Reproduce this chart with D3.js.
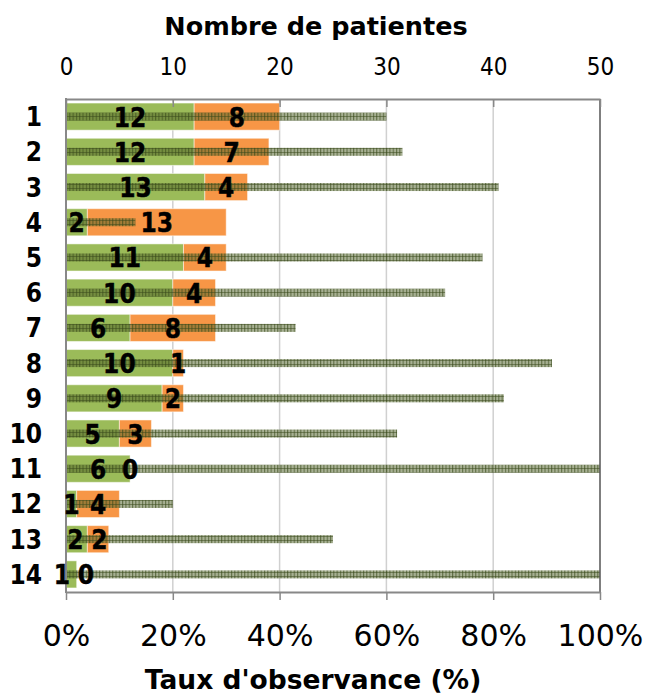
<!DOCTYPE html>
<html>
<head>
<meta charset="utf-8">
<script src="https://cdn.jsdelivr.net/npm/d3@7"></script>
<style>
  html, body { margin: 0; padding: 0; background: #fff; }
  svg { display: block; }
</style>
</head>
<body>
<script>
// ---- Data ----
const categories = ["1","2","3","4","5","6","7","8","9","10","11","12","13","14"];
const greenCounts = [12,12,13,2,11,10,6,10,9,5,6,1,2,1];
const orangeCounts = [8,7,4,13,4,4,8,1,2,3,0,4,2,0];
const observance = [60,63,81,13,78,71,43,91,82,62,100,20,50,100];
const countTicks = [0,10,20,30,40,50];
const pctTicks = [0,20,40,60,80,100];
const topTitle = "Nombre de patientes";
const bottomTitle = "Taux d'observance (%)";

// ---- Layout ----
const W = 651, H = 697;
const plotL = 66, plotR = 600, plotT = 99, plotB = 592;
const GREEN = "#9BBB59", ORANGE = "#F79646";
const FONT = "'DejaVu Sans', Verdana, sans-serif";
const CFONT = "'DejaVu Sans Condensed', 'DejaVu Sans', sans-serif";

const svg = d3.select("body").append("svg").attr("width", W).attr("height", H);

const defs = svg.append("defs");
const pat = defs.append("pattern").attr("id", "hatch")
  .attr("patternUnits", "userSpaceOnUse").attr("width", 3.3).attr("height", 4);
pat.append("rect").attr("width", 3.3).attr("height", 4).attr("fill", "rgba(79,98,40,0.5)");
pat.append("rect").attr("x", 0).attr("y", 0).attr("width", 1.1).attr("height", 4).attr("fill", "rgba(55,72,25,0.62)");
pat.append("rect").attr("x", 0).attr("y", 0).attr("width", 3.3).attr("height", 1).attr("fill", "rgba(55,72,25,0.5)");

const x = d3.scaleLinear().domain([0, 50]).range([plotL, plotR]);
const xp = d3.scaleLinear().domain([0, 100]).range([plotL, plotR]);
const y = d3.scaleBand().domain(categories).range([plotT, plotB]).paddingInner(0.23).paddingOuter(0.115);

// gridlines
svg.append("g").selectAll("line").data(pctTicks.slice(1, -1)).join("line")
  .attr("x1", d => xp(d)).attr("x2", d => xp(d))
  .attr("y1", plotT).attr("y2", plotB)
  .attr("stroke", "#d0d0d0").attr("stroke-width", 1.5);

// stacked bars
const rows = categories.map((c, i) => ({c, g: greenCounts[i], o: orangeCounts[i], p: observance[i]}));
const bars = svg.append("g");
bars.selectAll("rect.g").data(rows).join("rect").attr("class", "g")
  .attr("x", x(0)).attr("y", d => y(d.c))
  .attr("width", d => x(d.g) - x(0)).attr("height", y.bandwidth())
  .attr("fill", GREEN).attr("stroke", "rgba(255,255,255,0.5)").attr("stroke-width", 1);
bars.selectAll("rect.o").data(rows.filter(d => d.o > 0)).join("rect").attr("class", "o")
  .attr("x", d => x(d.g)).attr("y", d => y(d.c))
  .attr("width", d => x(d.g + d.o) - x(d.g)).attr("height", y.bandwidth())
  .attr("fill", ORANGE).attr("stroke", "rgba(255,255,255,0.5)").attr("stroke-width", 1);

// observance (hatched) bars
const hb = 8;
svg.append("g").selectAll("rect").data(rows).join("rect")
  .attr("x", xp(0)).attr("y", d => y(d.c) + y.bandwidth() / 2 - hb / 2)
  .attr("width", d => xp(d.p) - xp(0)).attr("height", hb)
  .attr("fill", "url(#hatch)");

// frame right line
svg.append("line").attr("x1", plotR).attr("x2", plotR).attr("y1", plotT).attr("y2", plotB)
  .attr("stroke", "#555").attr("stroke-width", 1.5);

// top axis
const gTop = svg.append("g").attr("transform", `translate(0,${plotT})`)
  .call(d3.axisTop(x).tickValues(countTicks).tickSizeInner(-8).tickSizeOuter(0).tickPadding(24));
gTop.select(".domain").attr("stroke", "#888").attr("stroke-width", 2);
gTop.selectAll(".tick line").attr("stroke", "#888").attr("stroke-width", 1.5);
gTop.selectAll(".tick text").attr("font-family", CFONT).attr("font-size", 24).attr("fill", "#000");

// bottom axis
const gBot = svg.append("g").attr("transform", `translate(0,${plotB})`)
  .call(d3.axisBottom(xp).tickValues(pctTicks).tickFormat(d => d + "%").tickSizeInner(8).tickSizeOuter(0));
gBot.select(".domain").attr("stroke", "#888").attr("stroke-width", 2);
gBot.selectAll(".tick line").attr("stroke", "#888").attr("stroke-width", 1.5);
gBot.selectAll(".tick text").attr("font-family", FONT).attr("font-size", 30).attr("fill", "#000")
  .attr("y", 54).attr("dy", 0);

// left axis line
svg.append("line").attr("x1", plotL).attr("x2", plotL).attr("y1", plotT - 1).attr("y2", plotB + 1)
  .attr("stroke", "#888").attr("stroke-width", 2);

// row labels
svg.append("g").selectAll("text").data(rows).join("text")
  .attr("x", 42).attr("y", d => y(d.c) + y.bandwidth() / 2 + 9.5)
  .attr("text-anchor", "end").attr("font-family", CFONT).attr("font-weight", "bold")
  .attr("font-size", 26).attr("fill", "#000").text(d => d.c);

// data labels with simple overlap avoidance
const lblSize = 26;
const labels = [];
rows.forEach(d => {
  let a = (x(0) + x(d.g)) / 2, b = (x(d.g) + x(d.g + d.o)) / 2;
  const minSep = 24;
  if (b - a < minSep) { const def = (minSep - (b - a)) / 2; a -= def; b += def; }
  labels.push({c: d.c, cx: a, t: d.g});
  labels.push({c: d.c, cx: b, t: d.o});
});
svg.append("g").selectAll("text").data(labels).join("text")
  .attr("x", d => d.cx).attr("y", d => y(d.c) + y.bandwidth() / 2 + 10)
  .attr("text-anchor", "middle").attr("font-family", CFONT).attr("font-weight", "bold")
  .attr("font-size", lblSize).attr("fill", "#000")
  .attr("stroke", "#000").attr("stroke-width", 0.4).text(d => d.t);

// titles
svg.append("text").attr("x", 316).attr("y", 35).attr("text-anchor", "middle")
  .attr("font-family", FONT).attr("font-weight", "bold").attr("font-size", 25.5).text(topTitle);
svg.append("text").attr("x", 313).attr("y", 689).attr("text-anchor", "middle")
  .attr("font-family", FONT).attr("font-weight", "bold").attr("font-size", 26.5).text(bottomTitle);
</script>
</body>
</html>
